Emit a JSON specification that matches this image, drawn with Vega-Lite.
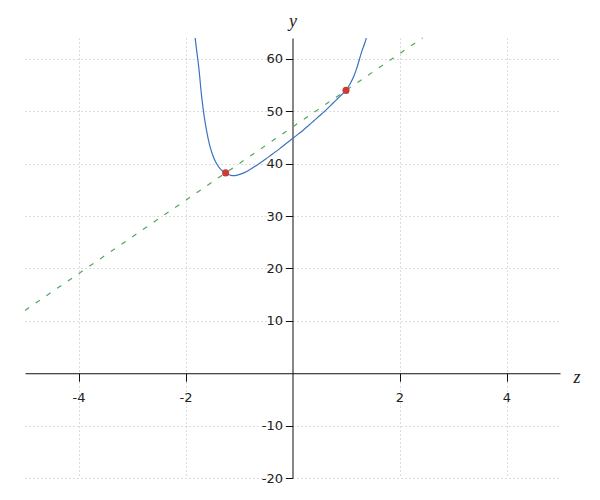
{
  "$schema": "https://vega.github.io/schema/vega-lite/v6.json",
  "width": 535,
  "height": 440,
  "autosize": {"type": "none"},
  "padding": {"left": 25, "top": 38, "right": 40, "bottom": 22},
  "background": "white",
  "config": {
    "view": {"stroke": null},
    "axis": {
      "labelFont": "DejaVu Sans",
      "labelFontSize": 13,
      "labelColor": "#222",
      "domainColor": "#111",
      "tickColor": "#111",
      "gridColor": "#b8b8b8",
      "gridDash": [1, 3],
      "gridWidth": 1,
      "titleFont": "Liberation Serif",
      "titleFontStyle": "italic",
      "titleFontWeight": "normal",
      "titleFontSize": 18,
      "titleColor": "#222"
    }
  },
  "datasets": {
    "curve": [
      {"z": -1.82, "y": 64.0},
      {"z": -1.79, "y": 61.5},
      {"z": -1.75, "y": 58.2},
      {"z": -1.7, "y": 53.0},
      {"z": -1.65, "y": 49.0},
      {"z": -1.6, "y": 46.0},
      {"z": -1.55, "y": 43.6},
      {"z": -1.5, "y": 41.9},
      {"z": -1.45, "y": 40.6},
      {"z": -1.4, "y": 39.7},
      {"z": -1.35, "y": 39.0},
      {"z": -1.3, "y": 38.55},
      {"z": -1.25, "y": 38.2},
      {"z": -1.2, "y": 37.95},
      {"z": -1.15, "y": 37.78},
      {"z": -1.1, "y": 37.72},
      {"z": -1.05, "y": 37.78},
      {"z": -1.0, "y": 37.92},
      {"z": -0.9, "y": 38.3},
      {"z": -0.8, "y": 38.85},
      {"z": -0.7, "y": 39.5},
      {"z": -0.6, "y": 40.2},
      {"z": -0.5, "y": 40.9},
      {"z": -0.4, "y": 41.65},
      {"z": -0.3, "y": 42.4},
      {"z": -0.2, "y": 43.2},
      {"z": -0.1, "y": 44.0},
      {"z": 0.0, "y": 44.8},
      {"z": 0.1, "y": 45.6},
      {"z": 0.2, "y": 46.4},
      {"z": 0.3, "y": 47.3},
      {"z": 0.4, "y": 48.2},
      {"z": 0.5, "y": 49.1},
      {"z": 0.6, "y": 50.0},
      {"z": 0.7, "y": 51.0},
      {"z": 0.8, "y": 52.0},
      {"z": 0.9, "y": 53.0},
      {"z": 1.0, "y": 54.0},
      {"z": 1.05, "y": 54.8},
      {"z": 1.1, "y": 55.7},
      {"z": 1.15, "y": 56.8},
      {"z": 1.2, "y": 58.2},
      {"z": 1.25, "y": 59.9},
      {"z": 1.3, "y": 61.6},
      {"z": 1.35, "y": 63.0},
      {"z": 1.38, "y": 64.0}
    ],
    "secant": [
      {"z": -5, "y": 12},
      {"z": 2.43, "y": 64.01}
    ],
    "pts": [
      {"z": -1.25, "y": 38.25},
      {"z": 1.0, "y": 54.0}
    ]
  },
  "encoding": {
    "x": {
      "field": "z", "type": "quantitative",
      "scale": {"domain": [-5, 5], "nice": false, "zero": false},
      "axis": {
        "orient": "bottom",
        "offset": -104.76,
        "values": [-4, -2, 2, 4],
        "labelExpr": "'' + datum.value",
        "grid": true,
        "tickSize": 8,
        "labelPadding": 10,
        "title": "z",
        "titleAngle": 0,
        "titleX": 548,
        "titleY": 9,
        "titleAlign": "left",
        "titleBaseline": "alphabetic"
      }
    },
    "y": {
      "field": "y", "type": "quantitative",
      "scale": {"domain": [-20, 64], "nice": false, "zero": false},
      "axis": {
        "orient": "left",
        "offset": -267.5,
        "values": [-20, -10, 10, 20, 30, 40, 50, 60],
        "labelExpr": "'' + datum.value",
        "grid": true,
        "tickSize": 7,
        "labelPadding": 3,
        "title": "y",
        "titleAngle": 0,
        "titleX": 0,
        "titleY": -12,
        "titleAlign": "center",
        "titleBaseline": "alphabetic"
      }
    }
  },
  "layer": [
    {
      "data": {"name": "secant"},
      "mark": {"type": "line", "color": "#4ea85a", "strokeWidth": 1.2, "strokeDash": [5, 8]}
    },
    {
      "data": {"name": "curve"},
      "mark": {"type": "line", "color": "#3b73c0", "strokeWidth": 1.2, "interpolate": "monotone", "clip": true}
    },
    {
      "data": {"name": "pts"},
      "mark": {"type": "circle", "color": "#cc3a35", "opacity": 1, "size": 50}
    }
  ]
}
